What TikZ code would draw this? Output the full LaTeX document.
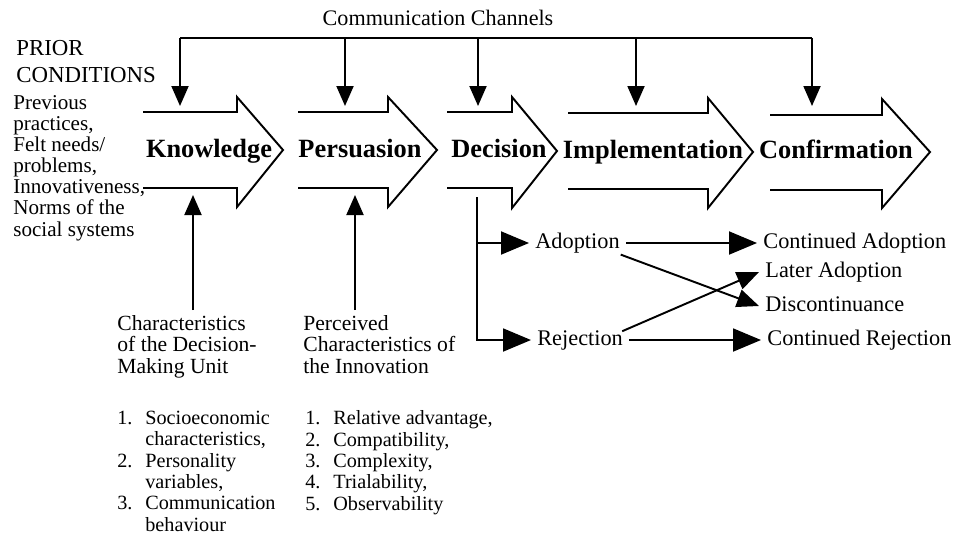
\documentclass[tikz,border=0pt]{standalone}
\usepackage{fontspec}
\setmainfont{Liberation Serif}
\usetikzlibrary{arrows.meta}
\newcommand{\lnum}[1]{\makebox[5.6mm][l]{#1}}
\tikzset{
  stagebox/.style={line width=1.1pt,line join=miter},
  stagetext/.style={font=\fontsize{15}{18}\selectfont\bfseries,anchor=base,inner sep=0pt},
  txt/.style={font=\fontsize{12.3}{12}\selectfont,align=left,anchor=base west,inner sep=0pt},
  listtxt/.style={font=\fontsize{11.5}{12.1}\selectfont,align=left,anchor=base west,inner sep=0pt},
  res/.style={font=\fontsize{12.7}{14}\selectfont,anchor=west,inner sep=1.2mm,text height=9pt,text depth=3pt},
  chan/.style={line width=1.1pt,-{Triangle[length=4mm,width=3.4mm]}},
  outcome/.style={line width=1.1pt,-{Triangle[length=5.6mm,width=4.6mm]}},
  cross/.style={line width=1.1pt,-{Triangle[length=4.4mm,width=3.6mm]}}
}
\begin{document}
\begin{tikzpicture}[x=0.2mm,y=-0.2mm]
  \useasboundingbox (0,0) rectangle (953,536);

  \draw[stagebox] (143,112) -| (237,97) -- (283,150) -- (237,207) |- (143,188);
  \draw[stagebox] (298,112) -| (388,97) -- (437,150) -- (388,207) |- (298,188);
  \draw[stagebox] (447,112) -| (512,97) -- (557,151) -- (512,208) |- (447,188);
  \draw[stagebox] (568,113) -| (708,98) -- (753,152) -- (708,208) |- (568,189);
  \draw[stagebox] (770,115) -| (882,99) -- (930,152) -- (882,208) |- (770,190);

  \node[stagetext] (know) at (209,157) {Knowledge};
  \node[stagetext] (pers) at (360,157) {Persuasion};
  \node[stagetext] (deci) at (499,157) {Decision};
  \node[stagetext] (impl) at (653,158) {Implementation};
  \node[stagetext] (conf) at (836,158) {Confirmation};

  \node[font=\fontsize{12.6}{14}\selectfont,anchor=base] (chantitle) at (438,25) {Communication Channels};
  \coordinate (ch1) at (180,38);
  \coordinate (ch2) at (345,38);
  \coordinate (ch3) at (478,38);
  \coordinate (ch4) at (636,38);
  \coordinate (ch5) at (812,38);
  \coordinate (stagetop) at (0,106);
  \draw[line width=1.1pt] (ch1) -- (ch5);
  \draw[chan] (ch1) -- (ch1 |- stagetop);
  \draw[chan] (ch2) -- (ch2 |- stagetop);
  \draw[chan] (ch3) -- (ch3 |- stagetop);
  \draw[chan] (ch4) -- (ch4 |- stagetop);
  \draw[chan] (ch5) -- (ch5 |- stagetop);

  \node[txt,font=\fontsize{13}{15}\selectfont] (prior) at (16,82) {PRIOR\\CONDITIONS};
  \node[txt,font=\fontsize{12}{12}\selectfont] (priorlist) at (13,236)
    {Previous\\practices,\\Felt needs/\\problems,\\Innovativeness,\\Norms of the\\social systems};

  \node[txt] (dmu) at (117,373) {Characteristics\\of the Decision-\\Making Unit};
  \node[txt] (pci) at (303,373) {Perceived\\Characteristics of\\the Innovation};
  \node[listtxt] (dmulist) at (117,531)
    {\lnum{1.}Socioeconomic\\\lnum{}characteristics,\\\lnum{2.}Personality\\\lnum{}variables,\\\lnum{3.}Communication\\\lnum{}behaviour};
  \node[listtxt] (pcilist) at (305,510)
    {\lnum{1.}Relative advantage,\\\lnum{2.}Compatibility,\\\lnum{3.}Complexity,\\\lnum{4.}Trialability,\\\lnum{5.}Observability};

  \coordinate (up1) at (193,310);
  \coordinate (up2) at (355,310);
  \coordinate (stagebot) at (0,195);
  \draw[chan] (up1) -- (up1 |- stagebot);
  \draw[chan] (up2) -- (up2 |- stagebot);

  \node[res] (adop)  at (529,243) {Adoption};
  \node[res] (rej)   at (531,340) {Rejection};
  \node[res] (cadop) at (757,243) {Continued Adoption};
  \node[res] (later) at (759,272) {Later Adoption};
  \node[res] (disc)  at (759,306) {Discontinuance};
  \node[res] (crej)  at (761,340) {Continued Rejection};

  \coordinate (dec) at (477,197);
  \draw[outcome] (dec) |- (adop.west);
  \draw[outcome] (dec) |- (rej.west);
  \draw[outcome] (adop.east) -- (cadop.west);
  \draw[outcome] (rej.east) -- (crej.west);
  \draw[cross]   ([xshift=-3pt,yshift=3pt]adop.south east) -- (disc.west);
  \draw[cross]   ([xshift=-4pt,yshift=5pt]rej.east) -- (later.west);
\end{tikzpicture}
\end{document}
